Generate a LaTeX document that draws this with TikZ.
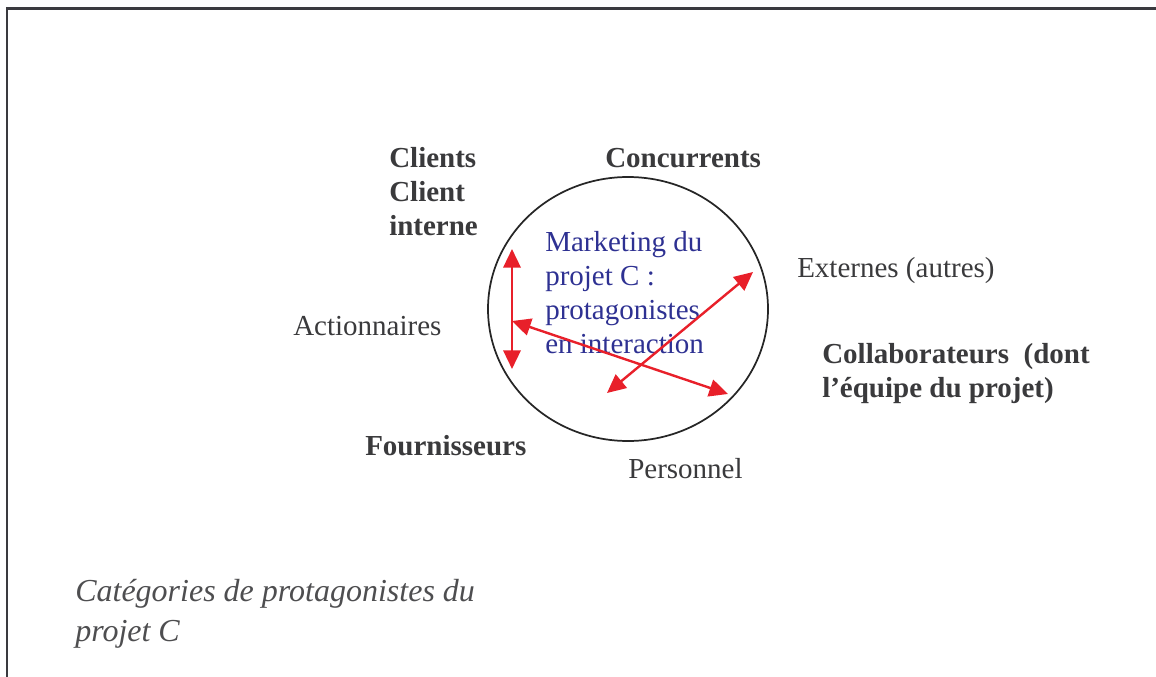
\documentclass[tikz,border=0pt]{standalone}
\usepackage{fontspec}
\setmainfont{Liberation Serif}
\usetikzlibrary{arrows.meta,shapes.geometric}
\definecolor{txt}{HTML}{3A3A3C}
\definecolor{blu}{HTML}{2E3192}
\definecolor{rd}{HTML}{E8202A}
\definecolor{frm}{HTML}{3A3A3F}
\tikzset{
  lbl/.style={anchor=base west, inner sep=0pt, text=txt, font=\fontsize{21.75pt}{25.5pt}\selectfont, align=left},
  blbl/.style={lbl, font=\fontsize{21.75pt}{25.5pt}\selectfont\bfseries},
  mlbl/.style={lbl, text=blu},
  ilbl/.style={lbl, font=\fontsize{24pt}{30pt}\selectfont\itshape, text=txt!90},
  rarrow/.style={draw=rd, line width=1.8pt, {Triangle[length=14pt,width=13pt]}-{Triangle[length=14pt,width=13pt]}, fill=rd}
}
\begin{document}
\begin{tikzpicture}[x=0.75pt,y=-0.75pt]
\useasboundingbox (0,0) rectangle (1156,677);
% frame
\draw[frm, line width=1.6pt] (7,690) -- (7,8.5) -- (1170,8.5);
% circle
\node[draw=black!85, line width=1.3pt, ellipse, minimum width=210pt, minimum height=198pt, inner sep=0pt] (circ) at (628,309) {};
% labels (multi-line nodes: anchor is the baseline of the last line)
\node[blbl] (clients) at (389,236) {Clients\\Client\\interne};
\node[blbl] (conc) at (605,168) {Concurrents};
\node[mlbl] (mkt) at (545,353) {Marketing du\\projet C :\\protagonistes\\en interaction};
\node[lbl] (ext) at (797,277) {Externes (autres)};
\node[lbl] (act) at (293,335) {Actionnaires};
\node[blbl] (coll) at (822,397) {Collaborateurs\ \ (dont\\l’équipe du projet)};
\node[blbl] (four) at (365,455) {Fournisseurs};
\node[lbl] (pers) at (628,478) {Personnel};
\node[ilbl] (cap) at (75,641) {Catégories de protagonistes du\\projet C};
% arrow ends
\coordinate (vt) at (512,249);
\coordinate (vb) at (512,369);
\coordinate (hl) at (512,321);
\coordinate (hr) at (728,394);
\coordinate (dl) at (607,393);
\coordinate (dr) at (753,272);
\draw[rarrow] (vt) -- (vb);
\draw[rarrow] (hl) -- (hr);
\draw[rarrow] (dl) -- (dr);
\end{tikzpicture}
\end{document}
